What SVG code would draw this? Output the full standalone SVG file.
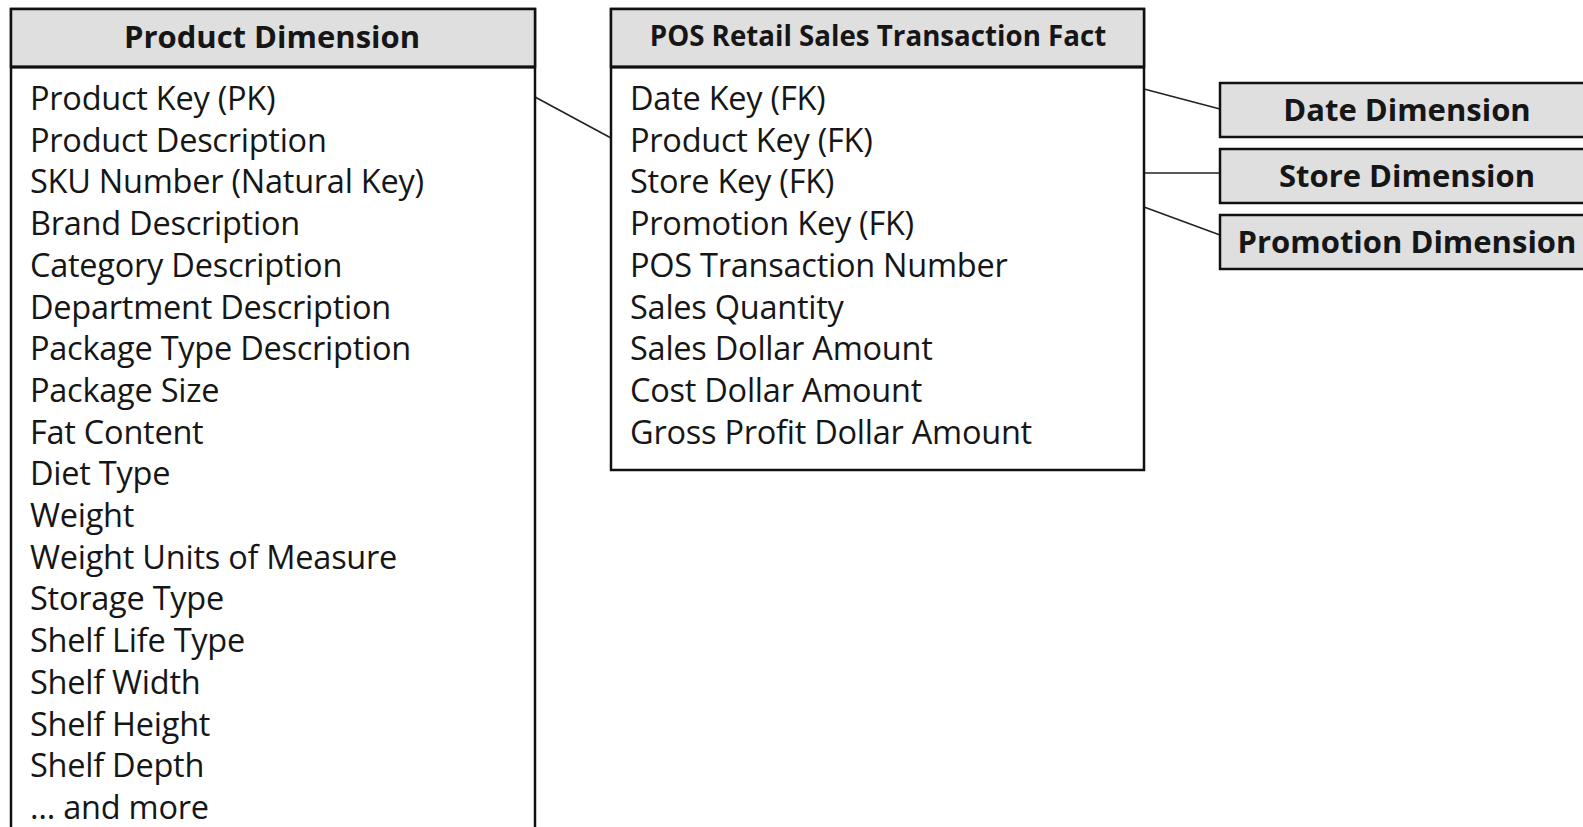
<svg xmlns="http://www.w3.org/2000/svg" width="1583" height="827" viewBox="0 0 1583 827">
<style>
.box{fill:#fff;stroke:#111;stroke-width:2.5}
.hdr{fill:#dfdfdf;stroke:#111;stroke-width:2.5}
.sep{stroke:#111;stroke-width:3}
.conn{stroke:#222;stroke-width:1.6;fill:none}
.t{font-family:"Open Sans","Liberation Sans",sans-serif;font-size:32.5px;letter-spacing:-0.25px;fill:#161616}
.h{font-family:"Open Sans","Liberation Sans",sans-serif;font-size:31px;font-weight:bold;fill:#161616;text-anchor:middle}
</style>
<rect width="1583" height="827" fill="#fff"/>
<g id="connectors">
<line class="conn" x1="535" y1="97" x2="611" y2="138"/>
<line class="conn" x1="1144" y1="89" x2="1220" y2="109"/>
<line class="conn" x1="1144" y1="173" x2="1220" y2="173"/>
<line class="conn" x1="1144" y1="207" x2="1220" y2="235"/>
</g>
<g id="product-dimension">
<rect class="box" x="11" y="9" width="524" height="840"/>
<rect class="hdr" x="11" y="9" width="524" height="58"/>
<line class="sep" x1="11" y1="67" x2="535" y2="67"/>
<text class="h" x="272" y="48">Product Dimension</text>
<text class="t" x="30" y="110">Product Key (PK)</text>
<text class="t" x="30" y="151.7">Product Description</text>
<text class="t" x="30" y="193.4">SKU Number (Natural Key)</text>
<text class="t" x="30" y="235.1">Brand Description</text>
<text class="t" x="30" y="276.8">Category Description</text>
<text class="t" x="30" y="318.5">Department Description</text>
<text class="t" x="30" y="360.2">Package Type Description</text>
<text class="t" x="30" y="401.9">Package Size</text>
<text class="t" x="30" y="443.6">Fat Content</text>
<text class="t" x="30" y="485.3">Diet Type</text>
<text class="t" x="30" y="527">Weight</text>
<text class="t" x="30" y="568.7">Weight Units of Measure</text>
<text class="t" x="30" y="610.4">Storage Type</text>
<text class="t" x="30" y="652.1">Shelf Life Type</text>
<text class="t" x="30" y="693.8">Shelf Width</text>
<text class="t" x="30" y="735.5">Shelf Height</text>
<text class="t" x="30" y="777.2">Shelf Depth</text>
<text class="t" x="30" y="818.9">… and more</text>
</g>
<g id="pos-fact">
<rect class="box" x="611" y="9" width="533" height="461"/>
<rect class="hdr" x="611" y="9" width="533" height="58"/>
<line class="sep" x1="611" y1="67" x2="1144" y2="67"/>
<text class="h" x="878" y="46" style="font-size:27.7px">POS Retail Sales Transaction Fact</text>
<text class="t" x="630" y="110">Date Key (FK)</text>
<text class="t" x="630" y="151.7">Product Key (FK)</text>
<text class="t" x="630" y="193.4">Store Key (FK)</text>
<text class="t" x="630" y="235.1">Promotion Key (FK)</text>
<text class="t" x="630" y="276.8">POS Transaction Number</text>
<text class="t" x="630" y="318.5">Sales Quantity</text>
<text class="t" x="630" y="360.2">Sales Dollar Amount</text>
<text class="t" x="630" y="401.9">Cost Dollar Amount</text>
<text class="t" x="630" y="443.6">Gross Profit Dollar Amount</text>
</g>
<g id="date-dimension">
<rect class="hdr" x="1220" y="83" width="380" height="54"/>
<text class="h" x="1407" y="121">Date Dimension</text>
</g>
<g id="store-dimension">
<rect class="hdr" x="1220" y="149" width="380" height="54"/>
<text class="h" x="1407" y="187">Store Dimension</text>
</g>
<g id="promotion-dimension">
<rect class="hdr" x="1220" y="215" width="380" height="54"/>
<text class="h" x="1407" y="253">Promotion Dimension</text>
</g>
</svg>
